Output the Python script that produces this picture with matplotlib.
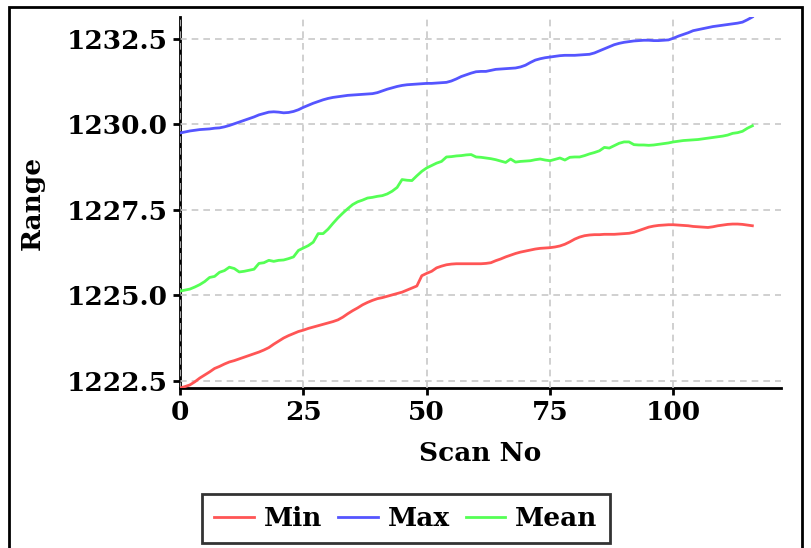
import matplotlib
matplotlib.use('Agg')
import matplotlib.pyplot as plt
from matplotlib.patches import Rectangle
import numpy as np

# range per scan
range_min = [
    1222.29, 1222.33, 1222.38, 1222.47, 1222.58, 1222.67, 1222.76, 1222.86, 1222.92, 1222.99,
    1223.05, 1223.09, 1223.14, 1223.19, 1223.24, 1223.29, 1223.34, 1223.40, 1223.47, 1223.57,
    1223.66, 1223.75, 1223.82, 1223.88, 1223.94, 1223.98, 1224.03, 1224.07, 1224.11, 1224.15,
    1224.19, 1224.23, 1224.28, 1224.36, 1224.46, 1224.55, 1224.63, 1224.72, 1224.79, 1224.85,
    1224.90, 1224.93, 1224.97, 1225.01, 1225.05, 1225.09, 1225.15, 1225.21, 1225.27, 1225.57,
    1225.64, 1225.70, 1225.80, 1225.85, 1225.89, 1225.91, 1225.92, 1225.92, 1225.92, 1225.92,
    1225.92, 1225.92, 1225.93, 1225.95, 1226.01, 1226.06, 1226.12, 1226.17, 1226.22, 1226.26,
    1226.29, 1226.32, 1226.35, 1226.37, 1226.38, 1226.39, 1226.41, 1226.44, 1226.49, 1226.56,
    1226.64, 1226.70, 1226.74, 1226.76, 1226.77, 1226.77, 1226.78, 1226.78, 1226.78, 1226.79,
    1226.80, 1226.81, 1226.84, 1226.89, 1226.94, 1226.99, 1227.02, 1227.04, 1227.05, 1227.06,
    1227.06, 1227.05, 1227.04, 1227.03, 1227.01, 1227.00, 1226.99, 1226.98, 1227.00, 1227.03,
    1227.05, 1227.07, 1227.08, 1227.08, 1227.07, 1227.05, 1227.03]

range_max = [
    1229.74, 1229.77, 1229.80, 1229.82, 1229.84, 1229.85, 1229.86, 1229.88, 1229.89, 1229.92,
    1229.96, 1230.01, 1230.06, 1230.11, 1230.16, 1230.21, 1230.27, 1230.31, 1230.35, 1230.36,
    1230.35, 1230.33, 1230.34, 1230.37, 1230.42, 1230.49, 1230.55, 1230.61, 1230.66, 1230.71,
    1230.75, 1230.78, 1230.80, 1230.82, 1230.84, 1230.85, 1230.86, 1230.87, 1230.88, 1230.89,
    1230.92, 1230.97, 1231.02, 1231.06, 1231.10, 1231.13, 1231.15, 1231.16, 1231.17, 1231.18,
    1231.19, 1231.19, 1231.20, 1231.21, 1231.22, 1231.26, 1231.32, 1231.39, 1231.44, 1231.49,
    1231.53, 1231.54, 1231.54, 1231.57, 1231.60, 1231.61, 1231.62, 1231.63, 1231.64, 1231.67,
    1231.72, 1231.80, 1231.87, 1231.91, 1231.94, 1231.96, 1231.98, 1232.00, 1232.01, 1232.01,
    1232.01, 1232.02, 1232.03, 1232.04, 1232.08, 1232.14, 1232.20, 1232.26, 1232.32, 1232.36,
    1232.39, 1232.41, 1232.43, 1232.44, 1232.45, 1232.45, 1232.44, 1232.44, 1232.45, 1232.46,
    1232.51, 1232.57, 1232.62, 1232.67, 1232.73, 1232.76, 1232.79, 1232.82, 1232.85, 1232.87,
    1232.89, 1232.91, 1232.93, 1232.95, 1232.98, 1233.05, 1233.13]

range_mean = [
    1225.12, 1225.15, 1225.18, 1225.24, 1225.31, 1225.40, 1225.52, 1225.55, 1225.67, 1225.72,
    1225.82, 1225.78, 1225.68, 1225.70, 1225.73, 1225.76, 1225.93, 1225.95, 1226.02, 1225.99,
    1226.02, 1226.03, 1226.07, 1226.12, 1226.31, 1226.38, 1226.45, 1226.55, 1226.80, 1226.80,
    1226.93, 1227.10, 1227.26, 1227.40, 1227.53, 1227.65, 1227.73, 1227.78, 1227.84, 1227.86,
    1227.89, 1227.91, 1227.96, 1228.04, 1228.15, 1228.38, 1228.36, 1228.35, 1228.49, 1228.62,
    1228.72, 1228.79, 1228.86, 1228.91, 1229.04, 1229.05, 1229.07, 1229.08, 1229.10, 1229.11,
    1229.04, 1229.03, 1229.01, 1228.99, 1228.96, 1228.92, 1228.88, 1228.98, 1228.89, 1228.91,
    1228.92, 1228.93, 1228.96, 1228.98, 1228.95, 1228.93, 1228.97, 1229.01, 1228.95, 1229.03,
    1229.04, 1229.04, 1229.08, 1229.13, 1229.17, 1229.22, 1229.32, 1229.30, 1229.37, 1229.44,
    1229.48, 1229.48, 1229.40, 1229.39, 1229.39, 1229.38, 1229.39, 1229.41, 1229.43, 1229.45,
    1229.48, 1229.50, 1229.52, 1229.53, 1229.54, 1229.55, 1229.57, 1229.59, 1229.61, 1229.63,
    1229.65, 1229.68, 1229.73, 1229.75, 1229.79, 1229.88, 1229.95]

scan_no = np.arange(len(range_min))
series_labels = ['Min', 'Max', 'Mean']
x_ticks = [0, 25, 50, 75, 100]
y_ticks = [1222.5, 1225.0, 1227.5, 1230.0, 1232.5]

plt.rcParams['font.family'] = ['DejaVu Serif']
plt.rcParams['font.weight'] = 'bold'
FS = 19

fig = plt.figure(figsize=(8.12, 5.48), dpi=100)
ax = fig.add_axes([0.2217, 0.292, 0.7401, 0.677])

ax.plot(scan_no, range_min, '-', color='#ff5555', lw=2, label=series_labels[0])
ax.plot(scan_no, range_max, '-', color='#5555ff', lw=2, label=series_labels[1])
ax.plot(scan_no, range_mean, '-', color='#55ff55', lw=2, label=series_labels[2])

allv = range_min + range_max + range_mean
ax.set_ylim(min(allv), max(allv))
ax.set_xlim(0, scan_no[-1] * 1.05)
ax.set_xticks(x_ticks)
ax.set_yticks(y_ticks)
ax.yaxis.set_major_formatter(matplotlib.ticker.FormatStrFormatter('%.1f'))

ax.grid(True, ls=(0, (4, 3)), color='#c8c8c8', lw=1.2)
for s in ['top', 'right']:
    ax.spines[s].set_visible(False)
for s in ['left', 'bottom']:
    ax.spines[s].set_linewidth(2)
    ax.spines[s].set_zorder(1)
ax.tick_params(length=5, width=2, labelsize=FS)
for lab in ax.get_xticklabels() + ax.get_yticklabels():
    lab.set_fontweight('bold')

ax.set_xlabel('Scan No', fontsize=FS, fontweight='bold', labelpad=12)
ax.set_ylabel('Range', fontsize=FS, fontweight='bold', labelpad=16)

leg = fig.legend(loc='upper center', bbox_to_anchor=(0.5, 0.0985), ncol=3,
                 fancybox=False, borderaxespad=0, prop={'size': FS, 'weight': 'bold'},
                 handlelength=1.5, handletextpad=0.38, columnspacing=0.6, borderpad=0.45)
leg.get_frame().set_edgecolor('black')
leg.get_frame().set_linewidth(2)

# outer frame around the whole figure
fig.patches.append(Rectangle((9 / 812, -0.02), 793 / 812, 1.007, transform=fig.transFigure,
                             fill=False, edgecolor='black', lw=2))

plt.savefig('out.png', dpi=100)
plt.close()
